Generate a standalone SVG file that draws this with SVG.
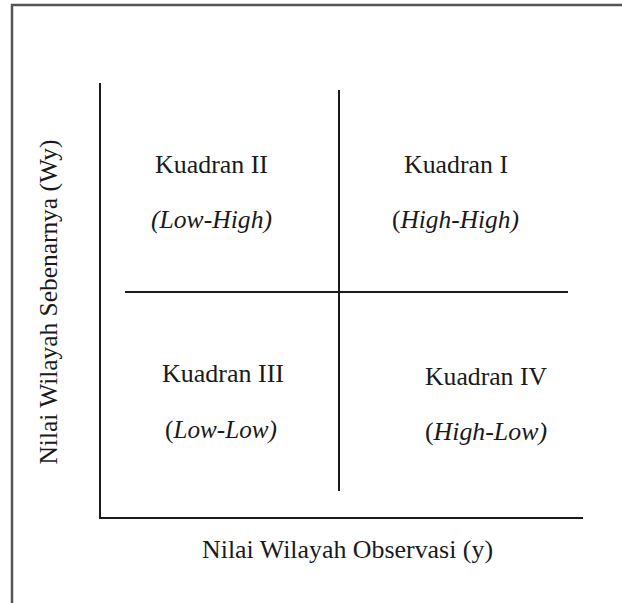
<svg xmlns="http://www.w3.org/2000/svg" width="622" height="603" viewBox="0 0 622 603">
<style>
.t{font-family:"Liberation Serif","Times New Roman",serif;font-size:25px;fill:#1a1a1a}
.i{font-style:italic}
.n{font-style:normal}
.ax{stroke:#1a1a1a;stroke-width:2;fill:none}
</style>
<rect x="0" y="0" width="622" height="603" fill="#ffffff"/>
<path d="M12,620 L12,5 L630,5" fill="none" stroke="#555555" stroke-width="2.5"/>
<g id="connectors">
<path class="ax" d="M100,83 L100,518 L583,518"/>
<path class="ax" d="M339,90 L339,491"/>
<path class="ax" d="M125,292 L568,292"/>
</g>
<g id="q2">
<text class="t" x="155" y="173" textLength="113" lengthAdjust="spacingAndGlyphs">Kuadran II</text>
<text class="t i" x="151" y="228" textLength="121" lengthAdjust="spacingAndGlyphs">(Low-High)</text>
</g>
<g id="q1">
<text class="t" x="404" y="173" textLength="104" lengthAdjust="spacingAndGlyphs">Kuadran I</text>
<text class="t" x="392" y="228" textLength="127" lengthAdjust="spacingAndGlyphs">(<tspan class="i">High-High)</tspan></text>
</g>
<g id="q3">
<text class="t" x="162" y="382" textLength="122" lengthAdjust="spacingAndGlyphs">Kuadran III</text>
<text class="t" x="165" y="438" textLength="112" lengthAdjust="spacingAndGlyphs">(<tspan class="i">Low-Low)</tspan></text>
</g>
<g id="q4">
<text class="t" x="425" y="385" textLength="122" lengthAdjust="spacingAndGlyphs">Kuadran IV</text>
<text class="t" x="425" y="440" textLength="122" lengthAdjust="spacingAndGlyphs">(<tspan class="i">High-Low)</tspan></text>
</g>
<g id="xlabel">
<text class="t" x="202" y="558" textLength="291" lengthAdjust="spacingAndGlyphs">Nilai Wilayah Observasi (y)</text>
</g>
<g id="ylabel">
<text class="t" transform="translate(57,302) rotate(-90)" x="0" y="0" text-anchor="middle" textLength="325" lengthAdjust="spacingAndGlyphs">Nilai Wilayah Sebenarnya (Wy)</text>
</g>
</svg>
